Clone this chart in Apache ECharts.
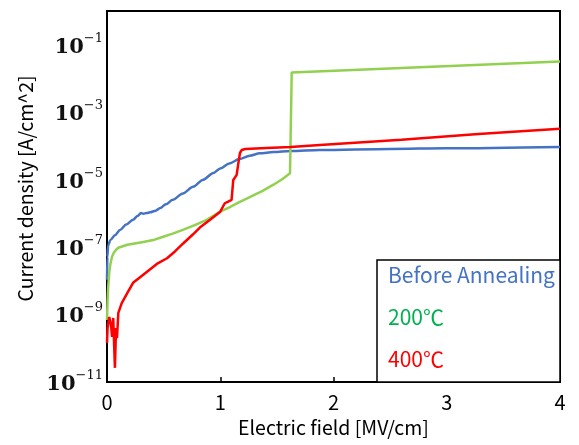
<!DOCTYPE html>
<html>
<head>
<meta charset="utf-8">
<script src="https://cdn.jsdelivr.net/npm/echarts@6/dist/echarts.min.js"></script>
<style>
  html, body { margin: 0; padding: 0; background: #ffffff; }
  #chart { width: 579px; height: 445px; }
</style>
</head>
<body>
<div id="chart"></div>
<script>
// series names
const names = ['Before Annealing', '200℃', '400℃']

// Before Annealing: field [MV/cm], log10(J [A/cm^2])
const fieldBefore = [0, 0.003, 0.01, 0.03, 0.07, 0.115, 0.17, 0.23, 0.27, 0.3, 0.32, 0.35, 0.38, 0.43, 0.47, 0.52, 0.58, 0.67, 0.76, 0.85, 0.94, 1.0, 1.08, 1.17, 1.26, 1.35, 1.47, 1.62, 1.88, 2.5, 3.0, 4.0]
const logJBefore = [-7.97, -7.3, -6.95, -6.79, -6.65, -6.49, -6.33, -6.19, -6.08, -5.99, -6.01, -5.99, -5.97, -5.92, -5.84, -5.73, -5.6, -5.41, -5.21, -5.0, -4.8, -4.67, -4.52, -4.39, -4.29, -4.22, -4.18, -4.15, -4.12, -4.09, -4.07, -4.03]

// 200℃
const field200 = [0, 0.005, 0.01, 0.02, 0.03, 0.045, 0.06, 0.08, 0.1, 0.18, 0.32, 0.42, 0.49, 0.58, 0.67, 0.78, 0.88, 1.0, 1.08, 1.16, 1.26, 1.37, 1.47, 1.55, 1.616, 1.631, 4.0]
const logJ200 = [-9.16, -8.6, -8.2, -7.75, -7.5, -7.28, -7.17, -7.08, -7.02, -6.93, -6.85, -6.78, -6.7, -6.6, -6.49, -6.34, -6.19, -5.95, -5.82, -5.68, -5.52, -5.34, -5.15, -4.98, -4.81, -1.82, -1.5]

// 400℃
const field400 = [0, 0.005, 0.02, 0.035, 0.045, 0.055, 0.07, 0.08, 0.088, 0.1, 0.13, 0.18, 0.23, 0.32, 0.44, 0.53, 0.6, 0.67, 0.76, 0.82, 0.91, 1.0, 1.04, 1.07, 1.1, 1.115, 1.145, 1.16, 1.174, 1.19, 1.22, 1.41, 1.62, 1.88, 2.6, 3.28, 4.0]
const logJ400 = [-9.84, -9.4, -9.07, -9.3, -9.66, -9.1, -10.58, -9.4, -9.7, -8.95, -8.66, -8.36, -8.06, -7.82, -7.5, -7.33, -7.13, -6.9, -6.62, -6.42, -6.19, -5.95, -5.7, -5.65, -5.6, -5.01, -4.86, -4.51, -4.21, -4.12, -4.09, -4.06, -4.03, -3.97, -3.82, -3.65, -3.49]

const lineColors = ['#4472C4', '#92D050', '#FF0000']
const textColors = ['#4472C4', '#00B050', '#FF0000']

const toPairs = (xs, logs) => xs.map((x, i) => [x, Math.pow(10, logs[i])])
const seriesData = [toPairs(fieldBefore, logJBefore), toPairs(field200, logJ200), toPairs(field400, logJ400)]

const chart = echarts.init(document.getElementById('chart'))

const series = names.map((n, i) => ({
  name: n,
  type: 'line',
  showSymbol: false,
  smooth: i === 0 ? 0.3 : false,
  smoothMonotone: 'x',
  data: seriesData[i],
  lineStyle: { color: lineColors[i], width: 2.5 },
  itemStyle: { color: lineColors[i] },
  z: 2
}))

const options = {
  animation: false,
  grid: {
    show: true,
    left: 107,
    right: 19,
    top: 11,
    bottom: 63,
    borderColor: '#000',
    borderWidth: 2
  },
  legend: {
    orient: 'vertical',
    left: 382,
    top: 263,
    padding: 0,
    icon: 'none',
    itemWidth: 1,
    itemHeight: 1,
    itemGap: 18,
    z: 10,
    data: names.map((n, i) => ({ name: n, textStyle: { color: textColors[i] } })),
    textStyle: {
      fontFamily: 'Noto Sans CJK JP',
      fontSize: 21,
      lineHeight: 24
    }
  },
  graphic: [{
    type: 'rect',
    z: 5,
    shape: { x: 377, y: 260, width: 183, height: 122 },
    style: { fill: '#fff', stroke: '#000', lineWidth: 1.5 }
  }],
  xAxis: {
    type: 'value',
    min: 0,
    max: 4,
    interval: 1,
    name: 'Electric field [MV/cm]',
    nameLocation: 'middle',
    nameGap: 36,
    nameTextStyle: { fontFamily: 'Noto Sans CJK JP', fontSize: 19.5, color: '#000' },
    axisLine: { lineStyle: { color: '#000', width: 2 } },
    axisTick: { inside: true, length: 5, lineStyle: { color: '#000', width: 1.5 } },
    axisLabel: { fontFamily: 'Noto Sans CJK JP', fontSize: 20, color: '#000', margin: 10 },
    splitLine: { show: false }
  },
  yAxis: {
    type: 'log',
    logBase: 10,
    min: 1e-11,
    max: 1,
    interval: 2,
    name: 'Current density [A/cm^2]',
    nameLocation: 'middle',
    nameGap: 68,
    nameTextStyle: { fontFamily: 'Noto Sans CJK JP', fontSize: 19.5, color: '#000', padding: [0, 0, 0, 16] },
    axisLine: { lineStyle: { color: '#000', width: 2 } },
    axisTick: { show: false },
    splitLine: { show: false },
    axisLabel: {
      margin: 4,
      formatter: (v) => {
        const e = Math.round(Math.log10(v))
        if (e >= 0) return ''
        return '{b|10}{s|−' + (-e) + '}'
      },
      rich: {
        b: { fontFamily: 'DejaVu Serif', fontWeight: 'bold', fontSize: 21, color: '#111', verticalAlign: 'bottom', lineHeight: 26 },
        s: { fontFamily: 'DejaVu Serif', fontSize: 13, color: '#111', verticalAlign: 'top', lineHeight: 26 }
      }
    }
  },
  series: series
}

chart.setOption(options)
</script>
</body>
</html>
